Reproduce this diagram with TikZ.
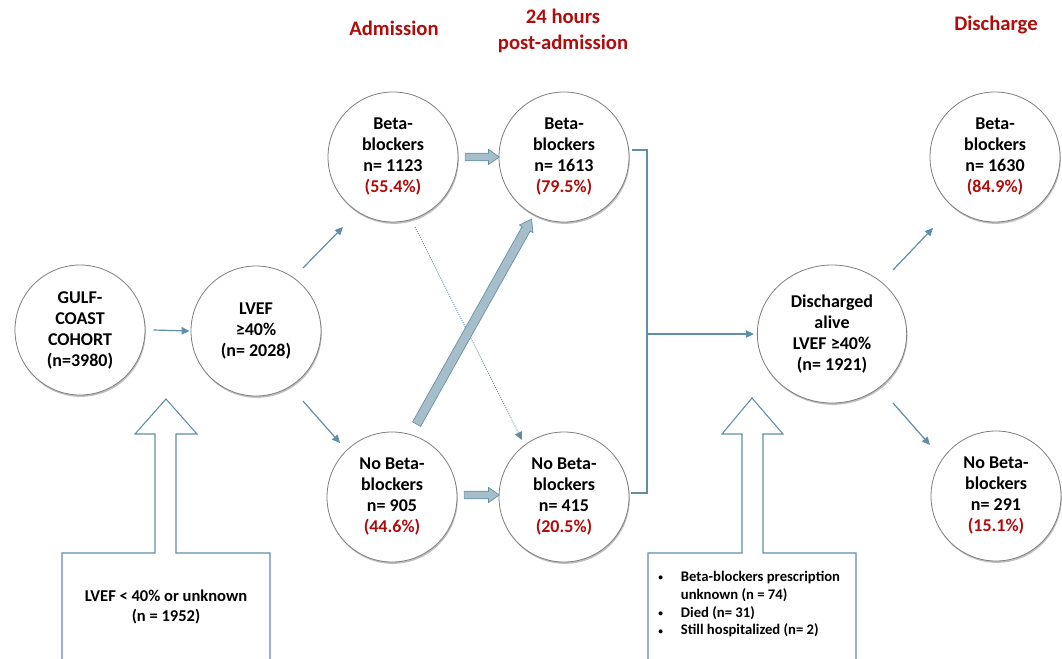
\documentclass[tikz,border=0pt]{standalone}
\usepackage{fontspec}
\setmainfont{Carlito}
\usetikzlibrary{arrows.meta,shapes.geometric,shapes.arrows,calc,shadows}
\definecolor{ttl}{RGB}{176,12,12}
\definecolor{pct}{RGB}{176,12,12}
\definecolor{arr}{RGB}{95,142,166}
\definecolor{fatfill}{RGB}{165,190,202}
\definecolor{fatdraw}{RGB}{100,142,165}
\definecolor{circ}{RGB}{125,125,125}
\newcommand\fatarrow[3]{\path let \p1=($(#2)-(#1)$), \n1={atan2(\y1,\x1)}, \n2={veclen(\x1,\y1)} in node[fatarr,#3, minimum height=\n2, rotate=\n1] at ($(#1)!0.5!(#2)$) {};}
\newcommand\smbul{\makebox[17pt][l]{\raisebox{0.5pt}{\fontsize{7}{7}\selectfont\textbullet}}}
\begin{document}
\begin{tikzpicture}[x=0.75pt,y=-0.75pt,
  bub/.style={circle, draw=circ, line width=0.6pt, fill=white, minimum size=97.5pt, inner sep=0pt, align=center,
    font=\fontsize{13.5}{15.75}\selectfont\bfseries,
    drop shadow={opacity=0.25, shadow xshift=0.6pt, shadow yshift=-1.4pt, fill=black}},
  ttlstyle/.style={align=center, text=ttl, font=\fontsize{15.5}{19.5}\selectfont\bfseries},
  thinarr/.style={draw=arr, line width=0.9pt, -{Triangle[length=6pt,width=5.5pt]}},
  dotarr/.style={draw=arr, line width=0.7pt, densely dotted, -{Triangle[length=6pt,width=5.5pt]}},
  arrline/.style={draw=arr, line width=0.9pt},
  fatarr/.style={single arrow, draw=fatdraw, fill=fatfill, line width=0.5pt, inner xsep=0pt, inner ysep=2.6pt,
    single arrow head extend=2.8pt, single arrow tip angle=70, minimum width=0pt},
  outline/.style={draw=arr, line width=0.8pt},
]
\useasboundingbox (0,0) rectangle (1062,659);

% titles
\node[ttlstyle] (tadm) at (394,28) {Admission};
\node[ttlstyle] (t24) at (563,31) {24 hours\\post-admission};
\node[ttlstyle] (tdis) at (996,25) {Discharge};

% circles
\node[bub] (gulf) at (80,330) {GULF-\\COAST\\COHORT\\(n=3980)};
\node[bub] (lvef) at (256,331) {LVEF\\≥40\%\\(n= 2028)};
\node[bub] (b1) at (393,157) {Beta-\\blockers\\n= 1123\\\textcolor{pct}{(55.4\%)}};
\node[bub] (b2) at (564,157) {Beta-\\blockers\\n= 1613\\\textcolor{pct}{(79.5\%)}};
\node[bub] (n1) at (392,497) {No Beta-\\blockers\\n= 905\\\textcolor{pct}{(44.6\%)}};
\node[bub] (n2) at (564,497) {No Beta-\\blockers\\n= 415\\\textcolor{pct}{(20.5\%)}};
\node[bub, ellipse, minimum width=112pt, minimum height=103.5pt] (disc) at (832,334) {Discharged\\alive\\LVEF ≥40\%\\(n= 1921)};
\node[bub] (d1) at (995,157) {Beta-\\blockers\\n= 1630\\\textcolor{pct}{(84.9\%)}};
\node[bub] (d2) at (996,496) {No Beta-\\blockers\\n= 291\\\textcolor{pct}{(15.1\%)}};

% thin arrows
\draw[thinarr] ($(gulf.east)+(8,0)$) -- ($(lvef.west)+(-1,0)$);
\draw[thinarr] ($(lvef.center)+(47,-63)$) -- ($(b1.center)+(-50,70)$);
\draw[thinarr] ($(lvef.center)+(47,70)$) -- ($(n1.center)+(-52,-54)$);
\draw[dotarr] ($(b1.center)+(22,70)$) -- ($(n2.center)+(-42,-57)$);
\draw[thinarr] ($(disc.center)+(61,-64)$) -- ($(d1.center)+(-62,71)$);
\draw[thinarr] ($(disc.center)+(61,69)$) -- ($(d2.center)+(-66,-51)$);

% bracket
\coordinate (bt) at ($(b2.center)+(68,-7)$);
\coordinate (bb) at ($(n2.center)+(67,-4)$);
\coordinate (bx) at ($(bt)+(15,0)$);
\draw[arrline] (bt) -- (bx) |- (bb);
\draw[thinarr] (bx |- disc.west) -- ($(disc.west)+(-3,0)$);

% fat arrows
\coordinate (f1s) at ($(b1.east)+(4,0)$);
\coordinate (f1e) at ($(b2.west)+(-2,0)$);
\coordinate (f2s) at ($(n1.east)+(4,-2)$);
\coordinate (f2e) at ($(n2.west)+(-2,-2)$);
\coordinate (f3s) at ($(n1.center)+(23,-70)$);
\coordinate (f3e) at ($(b2.center)+(-34,65)$);
\fatarrow{f1s}{f1e}{}
\fatarrow{f2s}{f2e}{}
\fatarrow{f3s}{f3e}{inner ysep=3.2pt, single arrow head extend=2.4pt}

% block arrows with boxes
\draw[outline] (62,662) -- (62,553) -- (155,553) -- (155,434) -- (135,434) -- (166,399) -- (197,434) -- (176,434) -- (176,553) -- (270,553) -- (270,662);
\draw[outline] (648,662) -- (648,553) -- (742,553) -- (742,434) -- (722,434) -- (752,398) -- (783,434) -- (763,434) -- (763,553) -- (856,553) -- (856,662);

\node[align=center, font=\fontsize{12.4}{15}\selectfont\bfseries] (lbox) at (166,607) {LVEF < 40\% or unknown\\(n = 1952)};
\node[align=left, anchor=north west, inner sep=0pt, font=\fontsize{11}{13.3}\selectfont\bfseries] (rbox) at (658,571)
 {\smbul Beta-blockers prescription\\
  \makebox[17pt][l]{}unknown (n = 74)\\
  \smbul Died (n= 31)\\
  \smbul Still hospitalized (n= 2)};
\end{tikzpicture}
\end{document}
